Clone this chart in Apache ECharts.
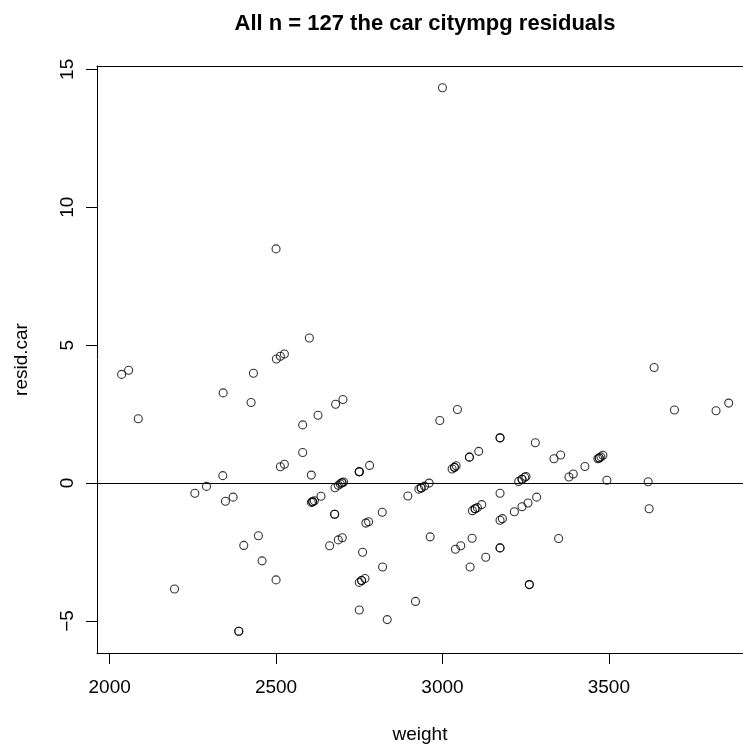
<!DOCTYPE html>
<html>
<head>
<meta charset="utf-8">
<script src="https://cdn.jsdelivr.net/npm/echarts@6/dist/echarts.min.js"></script>
<style>
  html, body { margin: 0; padding: 0; background: #fff; }
  #chart { width: 743px; height: 749px; }
</style>
</head>
<body>
<div id="chart"></div>
<script>
// Car weight (x) against residuals of city mpg (y), n = 127
const weight = [
  2036, 2057, 2086, 2195, 2256, 2291, 2340, 2341, 2348, 2371,
  2388, 2388, 2403, 2425, 2432, 2447, 2458, 2500, 2500, 2501,
  2513, 2525, 2513, 2525, 2580, 2580, 2600, 2606, 2626, 2679,
  2701, 2606, 2610, 2615, 2635, 2661, 2676, 2676, 2677, 2687,
  2693, 2698, 2703, 2687, 2699, 2750, 2750, 2781, 2750, 2757,
  2767, 2750, 2760, 2770, 2778, 2819, 2820, 2834, 2896, 2919,
  2929, 2936, 2946, 2960, 2963, 2992, 3000, 3045, 3029, 3036,
  3041, 3039, 3055, 3081, 3081, 3109, 3083, 3089, 3090, 3098,
  3105, 3118, 3130, 3173, 3173, 3173, 3173, 3180, 3173, 3173,
  3216, 3229, 3239, 3247, 3251, 3239, 3257, 3261, 3261, 3279,
  3283, 3335, 3349, 3355, 3380, 3393, 3428, 3467, 3471, 3476,
  3482, 3494, 3618, 3621, 3636, 3697, 3822, 3860,
  2698, 3471, 3036, 3098, 2610, 2936, 3239, 2757, 2750
];
const residCar = [
  3.94, 4.09, 2.33, -3.84, -0.37, -0.12, 0.27, 3.27, -0.66, -0.51,
  -5.37, -5.37, -2.26, 2.92, 3.98, -1.91, -2.82, 8.49, -3.51, 4.50,
  4.60, 4.68, 0.59, 0.68, 2.11, 1.11, 5.26, 0.29, 2.46, 2.86,
  3.03, -0.70, -0.68, -0.64, -0.48, -2.27, -1.13, -1.13, -0.17, -0.08,
  -0.03, 0.01, 0.04, -2.06, -1.98, 0.41, 0.41, 0.64, -3.60, -3.53,
  -3.46, -4.60, -2.51, -1.45, -1.40, -1.06, -3.04, -4.95, -0.47, -4.29,
  -0.22, -0.18, -0.11, 0.00, -1.95, 2.27, 14.33, 2.67, 0.51, 0.57,
  0.63, -2.40, -2.27, 0.94, 0.94, 1.15, -3.04, -2.00, -1.00, -0.93,
  -0.89, -0.78, -2.69, 1.64, 1.64, -0.37, -1.35, -1.29, -2.35, -2.35,
  -1.04, 0.06, 0.14, 0.21, 0.24, -0.86, -0.72, -3.68, -3.68, 1.46,
  -0.51, 0.88, -2.01, 1.02, 0.22, 0.33, 0.60, 0.88, 0.91, 0.95,
  1.01, 0.10, 0.05, -0.93, 4.19, 2.65, 2.62, 2.90,
  0.01, 0.91, 0.57, -0.93, -0.68, -0.18, 0.14, -3.53, 0.41
];
const xTicks = [2000, 2500, 3000, 3500];
const yTicks = [-5, 0, 5, 10, 15];

const points = weight.map((w, i) => [w, residCar[i]]);
const FONT = '"Liberation Sans", Arial, Helvetica, sans-serif';
// plain numbers, true minus sign for negatives
const fmt = v => (v < 0 ? '\u2212' + Math.abs(v) : String(v));
const X_MIN = 1962, X_MAX = 3903;
const frameLine = { show: true, onZero: false, lineStyle: { color: '#000', width: 1 } };

const chart = echarts.init(document.getElementById('chart'), null, { renderer: 'canvas' });
chart.setOption({
  animation: false,
  backgroundColor: '#ffffff',
  title: {
    text: 'All n = 127 the car citympg residuals',
    left: 420,
    top: 8,
    textAlign: 'center',
    textStyle: { fontFamily: FONT, fontSize: 22, fontWeight: 'bold', color: '#000' }
  },
  grid: { left: 97, top: 66, right: 0, bottom: 95, show: false },
  xAxis: [{
    type: 'value',
    position: 'bottom',
    min: X_MIN, max: X_MAX,
    name: 'weight',
    nameLocation: 'middle',
    nameGap: 72,
    nameTextStyle: { fontFamily: FONT, fontSize: 19, color: '#000' },
    axisLine: frameLine,
    splitLine: { show: false },
    axisTick: { show: true, inside: false, length: 11, customValues: xTicks, lineStyle: { color: '#000', width: 1 } },
    axisLabel: { customValues: xTicks, formatter: fmt, margin: 25, fontFamily: FONT, fontSize: 19, color: '#000' }
  }, {
    // top edge of the plot frame
    type: 'value',
    position: 'top',
    min: X_MIN, max: X_MAX,
    axisLine: frameLine,
    axisTick: { show: false },
    axisLabel: { show: false },
    splitLine: { show: false }
  }],
  yAxis: {
    type: 'value',
    position: 'left',
    min: -6.16, max: 15.12,
    name: 'resid.car',
    nameLocation: 'middle',
    nameGap: 66,
    nameRotate: 90,
    nameTextStyle: { fontFamily: FONT, fontSize: 19, color: '#000' },
    axisLine: frameLine,
    splitLine: { show: false },
    axisTick: { show: true, inside: false, length: 11, customValues: yTicks, lineStyle: { color: '#000', width: 1 } },
    axisLabel: { customValues: yTicks, formatter: fmt, margin: 20, rotate: 90, fontFamily: FONT, fontSize: 19, color: '#000' }
  },
  series: [{
    type: 'scatter',
    xAxisIndex: 0,
    data: points,
    symbol: 'circle',
    symbolSize: 8,
    itemStyle: { color: 'transparent', borderColor: '#000', borderWidth: 1.1 },
    markLine: {
      silent: true,
      symbol: 'none',
      label: { show: false },
      lineStyle: { color: '#000', width: 1, type: 'solid' },
      data: [{ yAxis: 0 }]
    }
  }]
});
</script>
</body>
</html>
